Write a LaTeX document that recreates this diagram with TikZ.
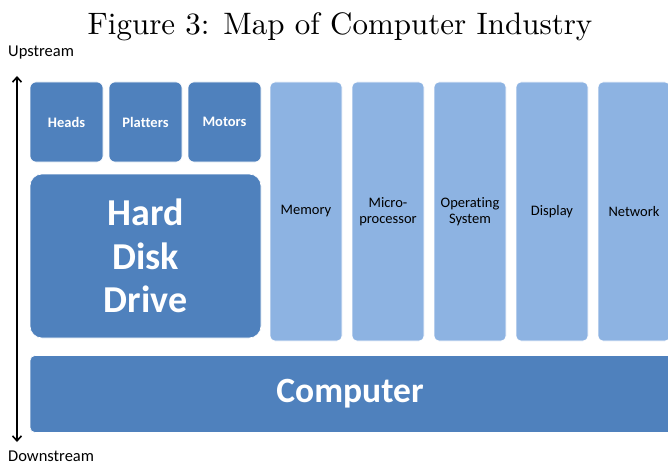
\documentclass[tikz,border=0pt]{standalone}
\usepackage{fontspec}
\newfontfamily\carfont[Ligatures={NoCommon}]{Carlito}
\usetikzlibrary{arrows.meta}
\definecolor{darkb}{HTML}{4F81BD}
\definecolor{lightb}{HTML}{8DB3E2}
\tikzset{
  dbox/.style={fill=darkb, draw=white, line width=0.6pt, rounded corners=6pt, text=white, font=\carfont\fontsize{14.5}{16}\selectfont\bfseries, align=center, inner sep=0pt},
  lbox/.style={fill=lightb, draw=white, line width=0.6pt, rounded corners=5pt, text=black, font=\carfont\fontsize{14.5}{16}\selectfont, align=center, inner sep=0pt},
  lbl/.style={font=\carfont\fontsize{16.5}{18}\selectfont, anchor=west, inner sep=0pt}
}
\begin{document}
\begin{tikzpicture}[x=1pt,y=-1pt]
\useasboundingbox (0,0) rectangle (668,465);
% title
\node[anchor=base, inner sep=0pt] (title) at (340,35) {\scalebox{3.1}{\normalsize Figure 3: Map of Computer Industry}};
% labels
\node[lbl] (up) at (8,53) {Upstream};
\node[lbl] (down) at (8,456) {Downstream};
% arrow
\coordinate (atop) at (17,76);
\coordinate (abot) at (17,442);
\draw[line width=1.6pt, {Straight Barb[length=5pt,width=9pt]}-{Straight Barb[length=5pt,width=9pt]}] (abot) -- (atop);
% small dark boxes
\node[dbox, minimum width=73pt, minimum height=80pt] (heads) at (66.5,122) {Heads};
\node[dbox, minimum width=73pt, minimum height=80pt] (platters) at (145.5,122) {Platters};
\node[dbox, minimum width=73pt, minimum height=80pt] (motors) at (224.5,122) {Motors};
% HDD
\node[dbox, rounded corners=12pt, minimum width=231pt, minimum height=164pt, font=\carfont\fontsize{38}{43.5}\selectfont\bfseries] (hdd) at (145.5,256) {Hard\\Disk\\Drive};
% light boxes
\node[lbox, minimum width=72pt, minimum height=259pt] (mem) at (306,211.5) {Memory};
\node[lbox, minimum width=72pt, minimum height=259pt] (cpu) at (388,211.5) {Micro-\\processor};
\node[lbox, minimum width=72pt, minimum height=259pt] (os) at (470,211.5) {Operating\\System};
\node[lbox, minimum width=72pt, minimum height=259pt] (disp) at (552,211.5) {Display};
\node[lbox, minimum width=72pt, minimum height=259pt] (net) at (634,211.5) {Network};
% computer
\node[dbox, rounded corners=5pt, minimum width=644pt, minimum height=77pt] (comp) at (352,394) {};
\node[text=white, font=\carfont\fontsize{35.5}{38}\selectfont\bfseries] (comptext) at (350,394) {Computer};
\end{tikzpicture}
\end{document}
